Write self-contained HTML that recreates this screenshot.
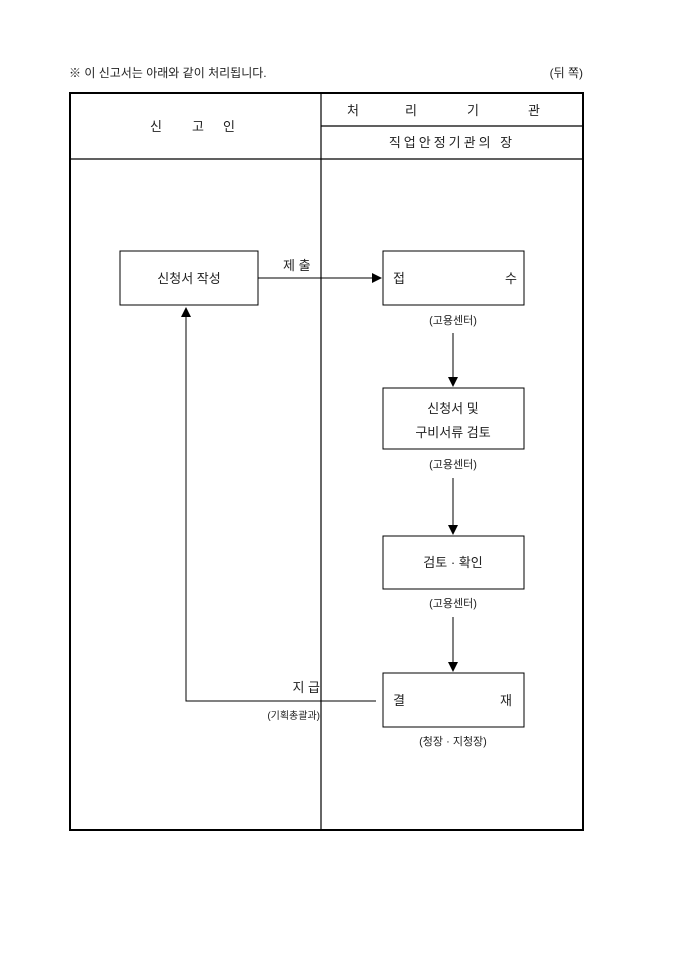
<!DOCTYPE html>
<html><head><meta charset="utf-8"><style>
html,body{margin:0;padding:0;background:#fff;}
svg text{font-family:"Liberation Sans","Noto Sans CJK KR","NanumGothic",sans-serif;fill:#222;}
</style></head><body>
<svg width="680" height="962" viewBox="0 0 680 962" xmlns="http://www.w3.org/2000/svg">
<defs><marker id="a" markerWidth="10" markerHeight="10" refX="9" refY="5" orient="auto" markerUnits="userSpaceOnUse"><path d="M0,0 L10,5 L0,10 z" fill="#000"/></marker></defs>
<text x="69" y="77" font-size="12">※ 이 신고서는 아래와 같이 처리됩니다.</text>
<text x="583" y="77" font-size="12" text-anchor="end">(뒤 쪽)</text>
<rect x="70" y="93" width="513" height="737" fill="none" stroke="#000" stroke-width="2"/>
<line x1="321" y1="93" x2="321" y2="830" stroke="#000" stroke-width="1.2"/>
<line x1="70" y1="159" x2="583" y2="159" stroke="#000" stroke-width="1.2"/>
<line x1="321" y1="126" x2="583" y2="126" stroke="#000" stroke-width="1.2"/>
<text font-size="13" y="131"><tspan x="150">신</tspan><tspan x="192">고</tspan><tspan x="223">인</tspan></text>
<text font-size="13" y="115"><tspan x="347">처</tspan><tspan x="405">리</tspan><tspan x="467">기</tspan><tspan x="528">관</tspan></text>
<text font-size="13" y="147" x="452" text-anchor="middle" letter-spacing="3">직업안정기관의 장</text>
<rect x="120" y="251" width="138" height="54" fill="none" stroke="#000"/>
<text x="189" y="283" font-size="13" text-anchor="middle">신청서 작성</text>
<rect x="383" y="251" width="141" height="54" fill="none" stroke="#000"/>
<text x="393" y="283" font-size="13">접</text><text x="505" y="283" font-size="13">수</text>
<text x="283" y="270" font-size="13">제 출</text>
<line x1="258" y1="278" x2="381" y2="278" stroke="#000" marker-end="url(#a)"/>
<text x="453" y="324" font-size="11" text-anchor="middle">(고용센터)</text>
<line x1="453" y1="333" x2="453" y2="386" stroke="#000" marker-end="url(#a)"/>
<rect x="383" y="388" width="141" height="61" fill="none" stroke="#000"/>
<text x="453" y="413" font-size="13" text-anchor="middle">신청서 및</text>
<text x="453" y="437" font-size="13" text-anchor="middle">구비서류 검토</text>
<text x="453" y="468" font-size="11" text-anchor="middle">(고용센터)</text>
<line x1="453" y1="478" x2="453" y2="534" stroke="#000" marker-end="url(#a)"/>
<rect x="383" y="536" width="141" height="53" fill="none" stroke="#000"/>
<text x="453" y="567" font-size="13" text-anchor="middle">검토 · 확인</text>
<text x="453" y="607" font-size="11" text-anchor="middle">(고용센터)</text>
<line x1="453" y1="617" x2="453" y2="671" stroke="#000" marker-end="url(#a)"/>
<rect x="383" y="673" width="141" height="54" fill="none" stroke="#000"/>
<text x="393" y="705" font-size="13">결</text><text x="500" y="705" font-size="13">재</text>
<text x="453" y="745" font-size="11" text-anchor="middle">(청장 · 지청장)</text>
<polyline points="376,701 186,701 186,308" fill="none" stroke="#000" marker-end="url(#a)"/>
<text x="320" y="692" font-size="13" text-anchor="end">지 급</text>
<text x="320" y="719" font-size="10" text-anchor="end">(기획총괄과)</text>
</svg>
</body></html>
